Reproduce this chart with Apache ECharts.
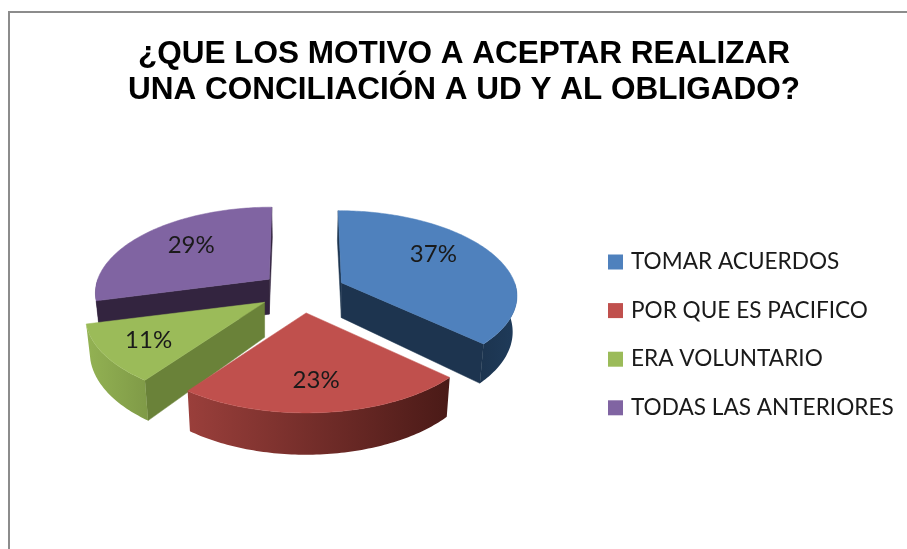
<!DOCTYPE html>
<html>
<head>
<meta charset="utf-8">
<style>html,body{margin:0;padding:0;background:#fff}#c{width:907px;height:549px}</style>
<script src="https://cdn.jsdelivr.net/npm/echarts@6/dist/echarts.min.js"></script>
</head>
<body>
<div id="c"></div>
<script>
const titleText = "¿QUE LOS MOTIVO A ACEPTAR REALIZAR\nUNA CONCILIACIÓN A UD Y AL OBLIGADO?";
const categories = ["TOMAR ACUERDOS", "POR QUE ES PACIFICO", "ERA VOLUNTARIO", "TODAS LAS ANTERIORES"];
const values = [37, 23, 11, 29];
const topColors = ["#4F81BD", "#C0504D", "#9BBB59", "#8064A2"];
const startWall = ["#1d344f", "#7a2f2c", "#6a8239", "#33243f"];
const endWall = ["#1d344f", "#7a2f2c", "#6a8239", "#33243f"];
const rimStops = [["#1c344f", "#1f3b5a"], ["#9a3f3b", "#4a1a17"], ["#93b253", "#7f9a47"], ["#33243f", "#33243f"]];
const labelOffsets = [[92, -28], [10, 67], [-116, 38], [-78, -34]];
const apexNudge = [[0, -1], [1, 0], [0, -1.5], [3, 0]];
const widthScale = [0.99, 1, 1.01, 0.98];
const frontScale = [0.95, 1, 1, 1];

// Projection of the tilted pie
const CX = 301, CY = 292, RX = 175, RY = 83.7, PERSP = 0.163, DEPTH = 35;
const EXPLODE_X = 44, EXPLODE_Y = 21, SKEW = 0.08, BASE_SHRINK = 0.02;

const total = values.reduce((a, b) => a + b, 0);
let running = 0;
const angles = values.map(v => {
  const a0 = running / total * 360;
  running += v;
  return [a0, running / total * 360];
});
const rad = d => d * Math.PI / 180;
const midY = angles.map(a => -Math.cos(rad((a[0] + a[1]) / 2)));
const rank = midY.map(y => midY.filter(o => o < y).length);

function makeSlice(i) {
  const [a0, a1] = angles[i];
  const mid = rad((a0 + a1) / 2);
  const ax = CX + EXPLODE_X * Math.sin(mid) + apexNudge[i][0];
  const ay = CY - EXPLODE_Y * Math.cos(mid) + apexNudge[i][1];
  const pt = (deg, lower) => {
    const X = Math.sin(rad(deg)), Y = -Math.cos(rad(deg));
    const k = 1 / (1 - PERSP * Y);
    const y = ay + RY * (Y > 0 ? frontScale[i] : 1) * Y * k;
    const x = ax + RX * widthScale[i] * X * k + (ax - CX) * SKEW * Math.min(Y, 0);
    return lower ? [x - (x - CX) * BASE_SHRINK, y + DEPTH * k] : [x, y];
  };
  const arc = (from, to, lower) => {
    const n = Math.max(2, Math.ceil(Math.abs(to - from)));
    const out = [];
    for (let j = 0; j <= n; j++) out.push(pt(from + (to - from) * j / n, lower));
    return out;
  };
  const wall = (deg, fill) => ({
    type: 'polygon',
    shape: { points: [[ax, ay], pt(deg, false), pt(deg, true), [ax, ay + DEPTH]] },
    style: { fill: fill, stroke: fill, lineWidth: 0.5 }
  });
  const children = [];
  const sn0 = Math.sin(rad(a0)), sn1 = Math.sin(rad(a1));
  if (sn0 < 1e-6) children.push(wall(a0, startWall[i]));
  if (sn1 > -1e-6) children.push(wall(a1, endWall[i]));
  const r0 = Math.max(a0, 90), r1 = Math.min(a1, 270);
  if (r1 > r0) {
    const topArc = arc(r0, r1, false);
    const lowArc = arc(r1, r0, true);
    children.push({
      type: 'polygon',
      shape: { points: topArc.concat(lowArc) },
      style: {
        fill: new echarts.graphic.LinearGradient(1, 0, 0, 0, [
          { offset: 0, color: rimStops[i][1] },
          { offset: 1, color: rimStops[i][0] }
        ])
      }
    });
  }
  children.push({
    type: 'polygon',
    shape: { points: [[ax, ay]].concat(arc(a0, a1, false)) },
    style: { fill: topColors[i], stroke: topColors[i], lineWidth: 0.5 }
  });
  children.push({
    type: 'text',
    style: {
      text: values[i] + '%',
      x: ax + labelOffsets[i][0],
      y: ay + labelOffsets[i][1],
      fill: '#1a1a1a',
      font: '24px Lato',
      textAlign: 'center',
      textVerticalAlign: 'middle'
    }
  });
  return { type: 'group', children: children };
}

const chart = echarts.init(document.getElementById('c'), null, { renderer: 'canvas' });
chart.setOption({
  animation: false,
  backgroundColor: '#ffffff',
  title: {
    text: titleText,
    left: 459,
    top: 31,
    textAlign: 'center',
    textStyle: { fontFamily: 'Liberation Sans', fontWeight: 'bold', fontSize: 31.5, lineHeight: 36, color: '#000000' }
  },
  legend: {
    orient: 'vertical',
    left: 603,
    top: 243,
    icon: 'rect',
    itemWidth: 15,
    itemHeight: 15,
    itemGap: 20.6,
    selectedMode: false,
    data: categories,
    textStyle: { fontFamily: 'Lato', fontSize: 22.6, lineHeight: 28, color: '#1a1a1a', padding: [0, 0, 0, 3] }
  },
  graphic: [{
    type: 'rect',
    silent: true,
    shape: { x: 9, y: 12, width: 1100, height: 1000 },
    style: { fill: 'none', stroke: '#8c8c8c', lineWidth: 2 },
    z: 0
  }],
  series: categories.map((name, i) => ({
    type: 'custom',
    name: name,
    coordinateSystem: 'none',
    z: 2 + rank[i],
    itemStyle: { color: topColors[i] },
    data: [[values[i]]],
    renderItem: () => makeSlice(i)
  }))
});
</script>
</body>
</html>
